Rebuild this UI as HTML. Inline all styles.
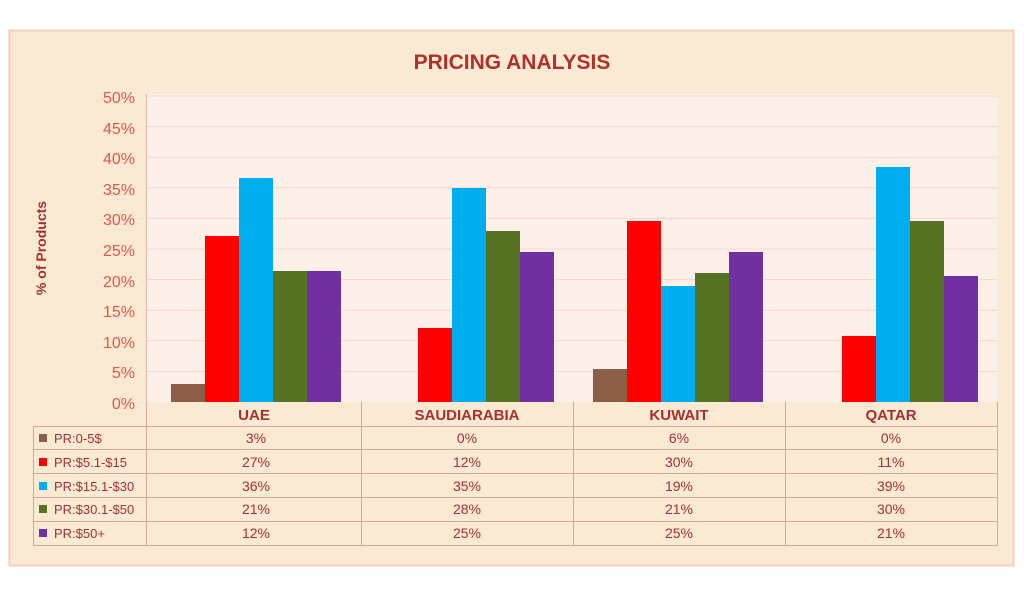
<!DOCTYPE html>
<html><head><meta charset="utf-8"><style>
html,body{margin:0;padding:0;background:#fff;width:1024px;height:597px;overflow:hidden}
text{font-family:"Liberation Sans",sans-serif}
</style></head><body>
<svg width="1024" height="597" xmlns="http://www.w3.org/2000/svg">
<rect x="9.5" y="30.5" width="1004" height="535" fill="#fbead3" stroke="#f6cdb8" stroke-width="2"/>
<text x="512" y="69" text-anchor="middle" font-size="21" font-weight="bold" fill="#b0302c">PRICING ANALYSIS</text>
<rect x="146" y="94" width="852" height="308" fill="#fdf0e8"/>
<g stroke="#f8d6cc" stroke-width="1">
<line x1="146" x2="998" y1="96" y2="96"/><line x1="146" x2="998" y1="126.6" y2="126.6"/>
<line x1="146" x2="998" y1="157.2" y2="157.2"/><line x1="146" x2="998" y1="187.8" y2="187.8"/>
<line x1="146" x2="998" y1="218.4" y2="218.4"/><line x1="146" x2="998" y1="249" y2="249"/>
<line x1="146" x2="998" y1="279.6" y2="279.6"/><line x1="146" x2="998" y1="310.2" y2="310.2"/>
<line x1="146" x2="998" y1="340.8" y2="340.8"/><line x1="146" x2="998" y1="371.4" y2="371.4"/>
</g>
<line x1="146.5" x2="146.5" y1="94" y2="402" stroke="#e0b8b0"/>
<g font-size="16" fill="#e8554a" text-anchor="end">
<text x="135" y="103">50%</text><text x="135" y="134">45%</text><text x="135" y="164">40%</text>
<text x="135" y="195">35%</text><text x="135" y="225">30%</text><text x="135" y="256">25%</text>
<text x="135" y="287">20%</text><text x="135" y="317">15%</text><text x="135" y="348">10%</text>
<text x="135" y="378">5%</text><text x="135" y="409">0%</text>
</g>
<text transform="translate(46,248) rotate(-90)" text-anchor="middle" font-size="14" font-weight="bold" fill="#a83030">% of Products</text>
<g>
<rect x="171" y="384" width="34" height="18" fill="#8b5e45"/>
<rect x="205" y="236" width="34" height="166" fill="#ff0000"/>
<rect x="239" y="178" width="34" height="224" fill="#00aeef"/>
<rect x="273" y="271" width="34" height="131" fill="#567323"/>
<rect x="307" y="271" width="34" height="131" fill="#7030a0"/>

<rect x="418" y="328" width="34" height="74" fill="#ff0000"/>
<rect x="452" y="188" width="34" height="214" fill="#00aeef"/>
<rect x="486" y="231" width="34" height="171" fill="#567323"/>
<rect x="520" y="252" width="34" height="150" fill="#7030a0"/>

<rect x="593" y="369" width="34" height="33" fill="#8b5e45"/>
<rect x="627" y="221" width="34" height="181" fill="#ff0000"/>
<rect x="661" y="286" width="34" height="116" fill="#00aeef"/>
<rect x="695" y="273" width="34" height="129" fill="#567323"/>
<rect x="729" y="252" width="34" height="150" fill="#7030a0"/>

<rect x="842" y="336" width="34" height="66" fill="#ff0000"/>
<rect x="876" y="167" width="34" height="235" fill="#00aeef"/>
<rect x="910" y="221" width="34" height="181" fill="#567323"/>
<rect x="944" y="276" width="34" height="126" fill="#7030a0"/>
</g>
<g stroke="#d6a89c" stroke-width="1" fill="none">
<line x1="146.5" x2="146.5" y1="402" y2="545"/>
<line x1="361.5" x2="361.5" y1="402" y2="545"/>
<line x1="573.5" x2="573.5" y1="402" y2="545"/>
<line x1="785.5" x2="785.5" y1="402" y2="545"/>
<line x1="997.5" x2="997.5" y1="402" y2="545"/>
<line x1="33.5" x2="33.5" y1="426" y2="545"/>
<line x1="33" x2="998" y1="426.5" y2="426.5"/>
<line x1="33" x2="998" y1="449.5" y2="449.5"/>
<line x1="33" x2="998" y1="473.5" y2="473.5"/>
<line x1="33" x2="998" y1="497.5" y2="497.5"/>
<line x1="33" x2="998" y1="521.5" y2="521.5"/>
<line x1="33" x2="998" y1="545.5" y2="545.5"/>
</g>
<g font-size="15" font-weight="bold" fill="#a83030" text-anchor="middle">
<text x="254" y="420">UAE</text><text x="467" y="420">SAUDIARABIA</text>
<text x="679" y="420">KUWAIT</text><text x="891" y="420">QATAR</text>
</g>
<rect x="39" y="434" width="8" height="8" fill="#8b5e45"/>
<rect x="39" y="458" width="8" height="8" fill="#ff0000"/>
<rect x="39" y="482" width="8" height="8" fill="#00aeef"/>
<rect x="39" y="505" width="8" height="8" fill="#567323"/>
<rect x="39" y="529" width="8" height="8" fill="#7030a0"/>
<g font-size="13" fill="#a83030">
<text x="54" y="443">PR:0-5$</text><text x="54" y="467">PR:$5.1-$15</text>
<text x="54" y="491">PR:$15.1-$30</text><text x="54" y="514">PR:$30.1-$50</text>
<text x="54" y="538">PR:$50+</text>
</g>
<g font-size="14" fill="#a83030" text-anchor="middle">
<text x="256" y="443">3%</text><text x="256" y="467">27%</text><text x="256" y="491">36%</text><text x="256" y="514">21%</text><text x="256" y="538">12%</text>
<text x="467" y="443">0%</text><text x="467" y="467">12%</text><text x="467" y="491">35%</text><text x="467" y="514">28%</text><text x="467" y="538">25%</text>
<text x="679" y="443">6%</text><text x="679" y="467">30%</text><text x="679" y="491">19%</text><text x="679" y="514">21%</text><text x="679" y="538">25%</text>
<text x="891" y="443">0%</text><text x="891" y="467">11%</text><text x="891" y="491">39%</text><text x="891" y="514">30%</text><text x="891" y="538">21%</text>
</g>
</svg>
</body></html>
